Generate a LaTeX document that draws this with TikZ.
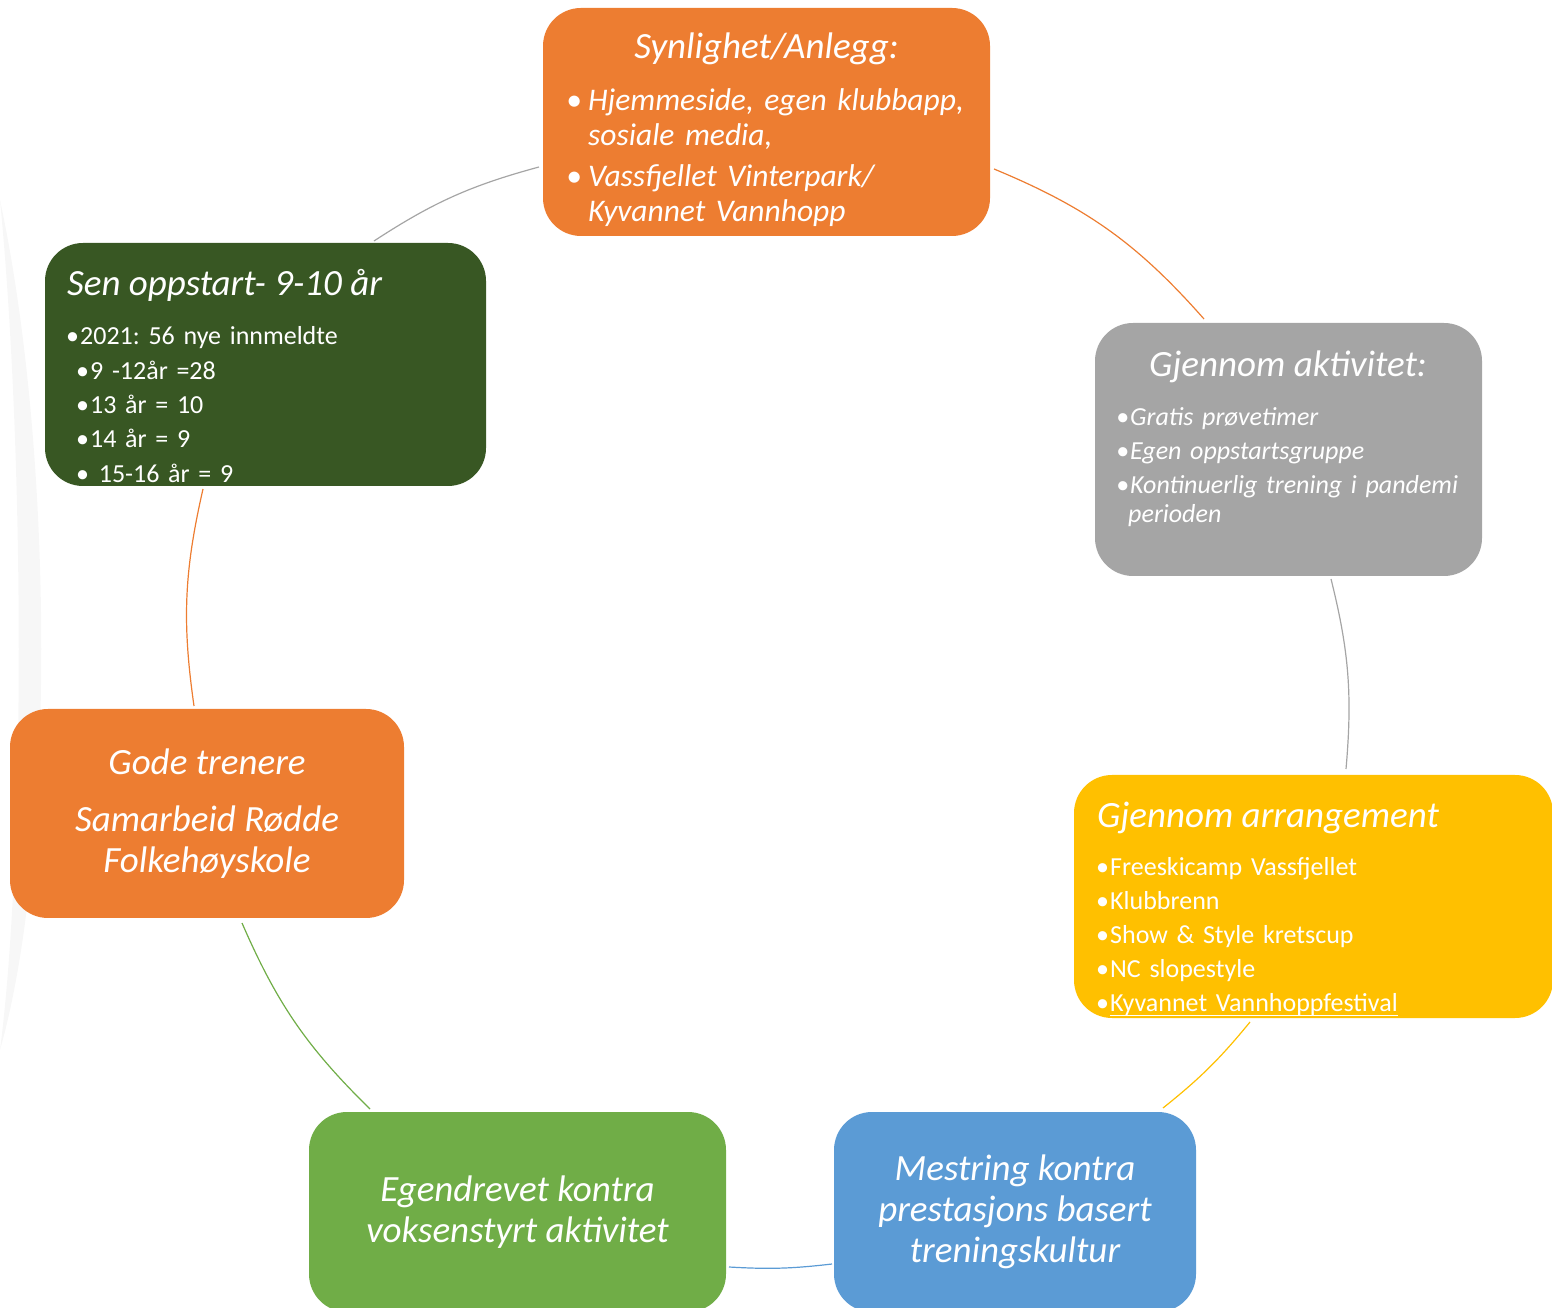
\documentclass[tikz,border=0pt]{standalone}
\usepackage{fontspec}
\setmainfont{Carlito}
\usetikzlibrary{positioning}
\definecolor{orn}{HTML}{ED7D31}
\definecolor{gry}{HTML}{A5A5A5}
\definecolor{ylw}{HTML}{FFC000}
\definecolor{blu}{HTML}{5B9BD5}
\definecolor{grn}{HTML}{70AD47}
\definecolor{dgrn}{HTML}{385723}
\frenchspacing
\newcommand{\pkt}[1][16pt]{\makebox[#1][l]{•}}
\newcommand{\strek}[1]{\setbox0\hbox{#1}\rlap{\rule[-4.5pt]{\wd0}{1.4pt}}\box0}
\tikzset{
 box/.style={rounded corners=38pt, inner sep=0pt, text=white},
 ring/.style={line width=1.2pt},
 ttl/.style={text=white, inner sep=0pt, font=\fontsize{37}{41}\selectfont\itshape},
 lst/.style={text=white, inner sep=0pt, align=left, text width=#1}
}

\begin{document}
\begin{tikzpicture}[x=1pt,y=1pt]
 \useasboundingbox (0,0) rectangle (1552,1307);
 \fill[black!3] (0,1107) .. controls (55,850) and (55,450) .. (0,257) .. controls (25,450) and (25,850) .. (0,1107);

 \node[box, fill=orn, minimum width=447pt, minimum height=228pt] (syn) at (766.5,1185) {};
 \node[ttl, anchor=base] (synT) at (766.5,1248) {Synlighet/Anlegg:};
 \node[lst=420pt, anchor=base west, font=\fontsize{31.5}{35}\selectfont\itshape] (synL) at (566,1196)
  {\pkt[22pt]Hjemmeside, egen klubbapp,\\ \hspace*{22pt}sosiale media,\\[6pt] \pkt[22pt]Vassfjellet Vinterpark/\\ \hspace*{22pt}Kyvannet Vannhopp};

 \node[box, fill=gry, minimum width=387pt, minimum height=253pt] (akt) at (1288.5,857.5) {};
 \node[ttl, anchor=base] (aktT) at (1288,930) {Gjennom aktivitet:};
 \node[lst=370pt, anchor=base west, font=\fontsize{26}{34}\selectfont\itshape] (aktL) at (1116,881)
  {\pkt[14pt]Gratis prøvetimer\\ \pkt[14pt]Egen oppstartsgruppe\\ \pkt[14pt]Kontinuerlig trening i pandemi\\[-5pt] \hspace*{12pt}perioden};

 \node[box, fill=ylw, minimum width=479pt, minimum height=243pt] (arr) at (1313.5,410.5) {};
 \node[ttl, anchor=base west] (arrT) at (1097,479) {Gjennom arrangement};
 \node[lst=440pt, anchor=base west, font=\fontsize{26}{34}\selectfont] (arrL) at (1096,431)
  {\pkt[14pt]Freeskicamp Vassfjellet\\ \pkt[14pt]Klubbrenn\\ \pkt[14pt]Show \& Style kretscup\\ \pkt[14pt]NC slopestyle\\ \pkt[14pt]\strek{Kyvannet Vannhoppfestival}};

 \node[box, fill=dgrn, minimum width=441pt, minimum height=243pt] (sen) at (265.5,942.5) {};
 \node[ttl, anchor=base west] (senT) at (67,1011) {Sen oppstart- 9-10 år};
 \node[lst=420pt, anchor=base west, font=\fontsize{26}{34.3}\selectfont] (senL) at (66,962)
  {\pkt[14pt]2021: 56 nye innmeldte\\ \hspace*{10pt}\pkt[14pt]9 -12år =28\\ \hspace*{10pt}\pkt[14pt]13 år = 10\\ \hspace*{10pt}\pkt[14pt]14 år = 9\\ \hspace*{10pt}\pkt[14pt] 15-16 år = 9};

 \node[box, fill=orn, minimum width=394pt, minimum height=209pt, align=center, font=\fontsize{37}{41}\selectfont\itshape] (gode) at (207,493.5)
  {Gode trenere\\[16pt] Samarbeid Rødde\\ Folkehøyskole};
 \node[box, fill=grn, minimum width=417pt, minimum height=200pt, align=center, font=\fontsize{37}{41}\selectfont\itshape] (egen) at (517.5,95)
  {Egendrevet kontra\\ voksenstyrt aktivitet};
 \node[box, fill=blu, minimum width=362pt, minimum height=200pt, align=center, font=\fontsize{37}{41}\selectfont\itshape] (mes) at (1015,95)
  {Mestring kontra\\ prestasjons basert\\ treningskultur};

 \coordinate (a1s) at (374,1066); \coordinate (a1e) at (539,1140);
 \coordinate (a2s) at (994,1138); \coordinate (a2e) at (1204,988);
 \coordinate (a3s) at (1331,728); \coordinate (a3e) at (1346,538);
 \coordinate (a4s) at (1250,285); \coordinate (a4e) at (1163,199);
 \coordinate (a5s) at (832,43);   \coordinate (a5e) at (729,40);
 \coordinate (a6s) at (370,198);  \coordinate (a6e) at (242,384);
 \coordinate (a7s) at (194,601);  \coordinate (a7e) at (203,818);
 \draw[ring, gry] (a1s) to[bend left=9] (a1e);
 \draw[ring, orn] (a2s) to[bend left=13] (a2e);
 \draw[ring, gry] (a3s) to[bend left=9.5] (a3e);
 \draw[ring, ylw] (a4s) to[bend left=6] (a4e);
 \draw[ring, blu] (a5s) to[bend left=5] (a5e);
 \draw[ring, grn] (a6s) to[bend left=11] (a6e);
 \draw[ring, orn] (a7s) to[bend left=10.5] (a7e);
\end{tikzpicture}
\end{document}
